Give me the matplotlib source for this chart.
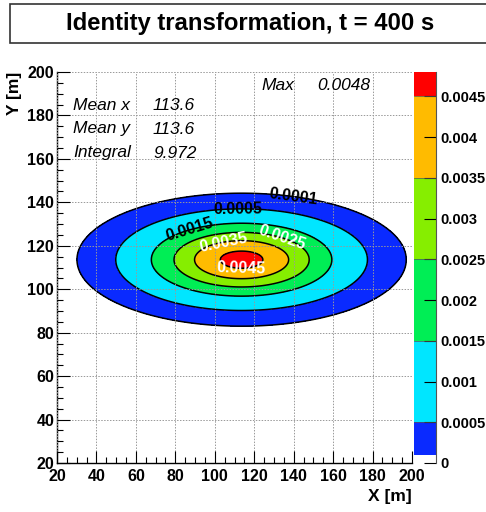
import numpy as np
import matplotlib
matplotlib.use("Agg")
import matplotlib.pyplot as plt
from matplotlib.patches import Rectangle
from matplotlib.ticker import MultipleLocator

plt.rcParams['font.family'] = ['Liberation Sans', 'DejaVu Sans']

# Concentration field parameters
mean_x = 113.6
mean_y = 113.6
sigma_x = 30.0
sigma_y = 11.0
peak = 0.0048
integral = 9.972

# Contour levels and fill colours
levels = [0.0001, 0.0005, 0.0015, 0.0025, 0.0035, 0.0045, 0.0048]
fill_colors = ["#0a2aff", "#00e6ff", "#00ee55", "#86ee00", "#ffbb00", "#ff0000"]
label_colors = ["black", "black", "black", "white", "white", "white"]
label_points = [(139.7, 143.4), (111.8, 137.9), (86.9, 128.2),
                (134.1, 124.0), (104.2, 121.7), (113.3, 111.6)]

x_ticks = [20, 40, 60, 80, 100, 120, 140, 160, 180, 200]
y_ticks = [20, 40, 60, 80, 100, 120, 140, 160, 180, 200]
cbar_ticks = [0, 0.0005, 0.001, 0.0015, 0.002, 0.0025, 0.003, 0.0035, 0.004, 0.0045]
cbar_labels = ["0", "0.0005", "0.001", "0.0015", "0.002", "0.0025", "0.003",
               "0.0035", "0.004", "0.0045"]

W, H = 486, 512
fig = plt.figure(figsize=(W / 100, H / 100), dpi=100)

# Title box
fig.patches.append(Rectangle((10 / W, 1 - 43 / H), 1.0, 39 / H, transform=fig.transFigure,
                             facecolor="white", edgecolor="#333333", lw=1.2))
fig.text(250 / W, 1 - 23.5 / H, "Identity transformation, t = 400 s", ha="center",
         va="center", fontsize=17.2, fontweight="bold")

ax = fig.add_axes([57 / W, 1 - 463 / H, (412 - 57) / W, (463 - 72) / H])

gx = np.linspace(20, 200, 601)
gy = np.linspace(20, 200, 601)
X, Y = np.meshgrid(gx, gy)
Z = peak * np.exp(-0.5 * (((X - mean_x) / sigma_x) ** 2 + ((Y - mean_y) / sigma_y) ** 2))

ax.contourf(X, Y, Z, levels=levels, colors=fill_colors)
cs = ax.contour(X, Y, Z, levels=levels[:-1], colors="black", linewidths=1.1)
texts = ax.clabel(cs, levels=levels[:-1], inline=False, manual=label_points,
                  fontsize=11.5, fmt=lambda v: f"{v:g}")
for t in texts:
    t.set_fontweight("bold")
    val = float(t.get_text())
    idx = int(np.argmin([abs(val - l) for l in levels[:-1]]))
    t.set_color(label_colors[idx])

ax.set_xlim(20, 200)
ax.set_ylim(20, 200)
ax.set_xticks(x_ticks)
ax.set_yticks(y_ticks)
ax.xaxis.set_minor_locator(MultipleLocator(5))
ax.yaxis.set_minor_locator(MultipleLocator(5))
ax.tick_params(which="major", direction="in", length=9, width=0.8)
ax.tick_params(which="minor", direction="in", length=4.5, width=0.8)
ax.tick_params(axis="x", labelsize=11.5, pad=4)
ax.tick_params(axis="y", labelsize=11.5, pad=2)
for lab in ax.get_xticklabels() + ax.get_yticklabels():
    lab.set_fontweight("bold")
ax.grid(True, which="major", color="#999999", linestyle=(0, (1.5, 1.5)), linewidth=0.7)
ax.set_axisbelow(False)
for s in ("top", "right"):
    ax.spines[s].set_visible(False)
for s in ("left", "bottom"):
    ax.spines[s].set_linewidth(1.0)

fig.text(412 / W, 1 - 497 / H, "X [m]", ha="right", va="center", fontsize=12.5,
         fontweight="bold")
fig.text(14 / W, 1 - 72 / H, "Y [m]", ha="center", va="top", rotation=90, fontsize=12.5,
         fontweight="bold")

# Statistics
stats = [("Mean x", f"{mean_x:.1f}"), ("Mean y", f"{mean_y:.1f}"),
         ("Integral", f"{integral:.3f}")]
for i, (name, val) in enumerate(stats):
    yy = 1 - (105 + 24 * i) / H
    fig.text(73 / W, yy, name, ha="left", va="center", fontsize=12.5, style="italic")
    fig.text(153 / W, yy, val, ha="left", va="center", fontsize=12.5, style="italic")
fig.text(261 / W, 1 - 86 / H, "Max", ha="left", va="center", fontsize=12.5, style="italic")
fig.text(317 / W, 1 - 86 / H, f"{peak:g}", ha="left", va="center", fontsize=12.5,
         style="italic")

# Colour scale
cax = fig.add_axes([414 / W, 1 - 463 / H, 22 / W, (463 - 72) / H])
cax.bar(0.5, np.diff(levels), bottom=levels[:-1], width=1.0, color=fill_colors,
        align="center")
for lv in levels[1:-1]:
    cax.axhline(lv, color="#555555", lw=0.5)
cax.set_xlim(0, 1)
cax.set_ylim(0, peak)
cax.set_xticks([])
cax.yaxis.tick_right()
cax.set_yticks(cbar_ticks)
cax.set_yticklabels(cbar_labels)
cax.tick_params(axis="y", direction="in", length=9, width=0.8, labelsize=10.5, pad=3)
for lab in cax.get_yticklabels():
    lab.set_fontweight("bold")
for s in ("top", "left", "bottom"):
    cax.spines[s].set_visible(False)
cax.spines["right"].set_linewidth(0.8)
cax.spines["right"].set_color("#555555")

fig.savefig("out.png", dpi=100)
